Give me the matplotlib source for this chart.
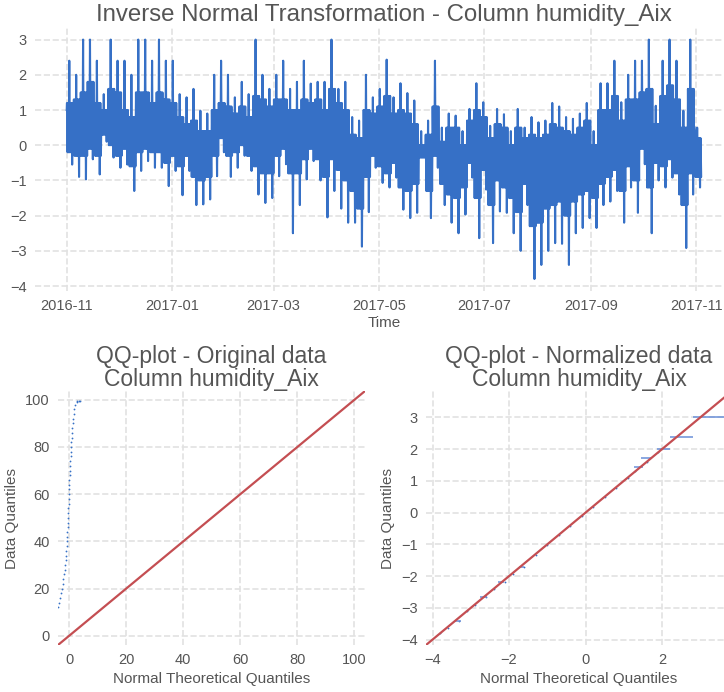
import matplotlib
matplotlib.use("Agg")
import matplotlib.pyplot as plt
import matplotlib.dates as mdates
import numpy as np
import pandas as pd

# time series, in 4-day buckets:
# outer spikes (highs/lows) and the dense body of each bucket (body_hi/body_lo)
ts_start = "2016-11-01"
ts_first = 1.0
ts_last = 0.5
highs = [2.4, 2.0, 3.0, 3.0, 2.4, 1.45, 3.0, 2.4, 2.4, 2.0,
         3.0, 3.0, 2.4, 3.0, 2.4, 2.4, 1.45, 1.36, 1.6, 0.98,
         0.9, 2.0, 2.4, 2.0, 1.36, 1.8, 1.45, 3.0, 2.0, 1.6,
         2.0, 2.4, 1.6, 1.8, 2.4, 1.75, 1.8, 1.8, 3.0, 1.6,
         1.8, 0.8, 0.7, 2.0, 1.36, 1.6, 2.43, 1.36, 1.76, 1.48,
         1.27, 0.4, 0.7, 2.4, 0.5, 0.9, 0.84, 0.4, 1.03, 1.76,
         1.22, 0.55, 1.03, 0.88, 0.4, 1.03, 0.5, 0.8, 0.65, 0.7,
         1.2, 1.1, 0.8, 0.75, 0.9, 1.2, 0.4, 1.76, 1.76, 2.4,
         1.22, 2.0, 2.4, 2.4, 3.0, 1.12, 2.4, 3.0, 2.4, 0.98,
         3.0, 0.5]
lows = [-0.55, -0.9, -0.97, -0.4, -0.83, 0.1, -0.35, -0.64, -0.55, -1.3,
        -0.73, -0.45, -0.64, -0.64, -1.16, -0.73, -1.42, -0.73, -1.7, -1.68,
        -1.54, -0.88, -0.2, -0.9, -0.64, -0.3, -0.73, -1.4, -1.64, -1.5,
        -0.88, -0.54, -2.5, -1.7, -0.97, -0.45, -1.0, -2.05, -1.3, -1.8,
        -2.2, -2.2, -2.88, -1.9, -0.64, -1.07, -1.2, -0.92, -1.83, -2.07,
        -1.92, -0.35, -2.07, -0.64, -1.7, -2.2, -2.5, -1.97, -0.92, -2.64,
        -1.26, -2.78, -1.88, -1.92, -2.5, -3.0, -1.7, -3.8, -3.4, -3.0,
        -2.78, -2.8, -3.4, -2.5, -2.35, -2.07, -2.35, -1.7, -1.6, -1.3,
        -2.2, -1.2, -1.92, -0.54, -2.5, -1.0, -1.2, -0.92, -1.4, -2.92,
        -1.4, -1.2]
body_hi = [1.2, 1.3, 1.5, 1.8, 1.2, 1.0, 1.6, 1.5, 1.0, 0.8,
           1.5, 1.5, 1.2, 1.5, 1.3, 1.2, 0.8, 0.6, 0.7, 0.4,
           0.4, 1.0, 1.2, 1.1, 0.9, 1.1, 0.8, 1.4, 1.3, 1.1,
           1.3, 1.3, 1.0, 1.0, 1.3, 1.2, 1.3, 1.0, 1.6, 1.2,
           1.0, 0.3, 0.2, 1.0, 0.9, 1.1, 1.4, 0.9, 1.0, 0.9,
           0.6, 0.0, 0.3, 1.1, 0.1, 0.5, 0.5, 0.0, 0.7, 1.0,
           0.8, 0.2, 0.6, 0.5, 0.0, 0.5, 0.2, 0.3, 0.2, 0.3,
           0.6, 0.5, 0.4, 0.3, 0.5, 0.7, 0.0, 1.0, 1.0, 1.4,
           0.7, 1.3, 1.3, 1.5, 1.6, 0.6, 1.4, 1.7, 1.3, 0.5,
           1.6, 0.2]
body_lo = [-0.2, -0.3, -0.3, -0.1, -0.3, 0.3, 0.0, -0.3, -0.1, -0.6,
           -0.2, -0.1, -0.2, -0.2, -0.5, -0.3, -0.6, -0.3, -0.9, -1.0,
           -0.9, -0.3, 0.2, -0.3, -0.2, 0.0, -0.3, -0.6, -0.8, -0.8,
           -0.3, -0.1, -0.8, -0.8, -0.4, -0.1, -0.4, -0.9, -0.4, -0.7,
           -1.0, -1.3, -1.8, -0.9, -0.3, -0.6, -0.8, -0.5, -1.2, -1.3,
           -1.1, -0.35, -1.3, -0.3, -1.1, -1.4, -1.5, -1.2, -0.5, -1.5,
           -0.7, -1.7, -1.0, -1.2, -1.5, -1.9, -1.1, -2.3, -2.2, -1.8,
           -1.7, -1.6, -2.0, -1.6, -1.4, -1.3, -1.5, -1.1, -0.9, -0.7,
           -1.3, -0.6, -1.0, -0.1, -1.2, -0.5, -0.6, -0.4, -0.8, -1.7,
           -0.8, -0.9]

# QQ-plot of the original humidity values
orig_theo = [-3.8, -3.5, -3.2, -2.8, -2.45, -2.2, -2.0, -1.8, -1.6, -1.4,
             -1.2, -1.05, -0.97, -0.9, -0.82, -0.7, -0.62, -0.55, -0.47, -0.4,
             -0.33, -0.27, -0.2, -0.14, -0.08, -0.02, 0.05, 0.1, 0.18, 0.26,
             0.35, 0.43, 0.5, 0.6, 0.68, 0.77, 0.86, 0.98, 1.1, 1.25,
             1.4, 1.6, 1.8, 2.2, 2.6, 2.9, 3.3, 3.8]
orig_data = [12, 14, 16, 18, 20, 22, 24, 26, 28, 30,
             32, 34, 36, 38, 40, 42, 44, 46, 48, 50,
             52, 54, 56, 58, 60, 62, 64, 66, 68, 70,
             72, 74, 76, 78, 80, 82, 84, 86, 88, 90,
             92, 94, 96, 98, 99.2, 99.5, 99.5, 99.5]
orig_lim = (-3.9, 103.7)

# QQ-plot of the normalized values
norm_theo = [-3.8, -3.6, -3.3, -3.1, -2.9, -2.6, -2.4, -2.1, -1.9, -1.6,
             -1.3, -1.0, -0.7, -0.4, -0.1, 0.2, 0.5, 0.8, 1.1, 1.3, 1.6, 1.9]
norm_data = [-3.8, -3.62, -3.4, -3.1, -2.92, -2.65, -2.4, -2.2, -1.92, -1.7,
             -1.32, -1.02, -0.72, -0.42, -0.12, 0.18, 0.48, 0.78, 1.08, 1.3, 1.58, 1.9]
tie_level = [3.0, 2.37, 2.0, 1.73, 1.45, -1.7, -2.2, -2.65, -3.4]
tie_from = [2.8, 2.2, 1.88, 1.45, 1.27, -1.75, -2.3, -2.77, -3.42]
tie_to = [3.85, 2.8, 2.2, 1.72, 1.5, -1.62, -2.12, -2.58, -3.25]
norm_lim = (-4.17, 3.83)

blue = "#3670c6"
red = "#c44e52"
text_col = "#555555"
grid_col = "#e2e2e2"

plt.rcParams["font.family"] = ["Liberation Sans", "DejaVu Sans"]
plt.rcParams["text.color"] = text_col
plt.rcParams["axes.labelcolor"] = text_col
plt.rcParams["xtick.color"] = text_col
plt.rcParams["ytick.color"] = text_col


def style(ax):
    for s in ax.spines.values():
        s.set_visible(False)
    ax.grid(True, linestyle="--", color=grid_col, linewidth=1.2)
    ax.set_axisbelow(True)
    ax.tick_params(length=0, labelsize=10.5, pad=6)


fig = plt.figure(figsize=(7.24, 6.92), dpi=100)

# top: transformed series
ax = fig.add_axes([0.0483, 0.5795, 0.964, 0.3806])
style(ax)
start = pd.Timestamp(ts_start)
buckets = pd.date_range(start, periods=len(highs), freq="4D")
step = pd.Timedelta(hours=8)
times = [start]
values = [ts_first]
for i, t0 in enumerate(buckets):
    bh, bl = body_hi[i], body_lo[i]
    # the dense hourly wiggle of the bucket, with its two outer spikes
    seq = [bh, bl, bh, bl, highs[i], bl, bh, bl, bh, lows[i], bh, bl]
    times += [t0 + step * (j + 0.5) for j in range(len(seq))]
    values += seq
times.append(start + pd.Timedelta(days=364))
values.append(ts_last)
ax.plot(times, values, color=blue, linewidth=1.5)
ax.xaxis.set_major_locator(mdates.MonthLocator(bymonth=[1, 3, 5, 7, 9, 11]))
ax.xaxis.set_major_formatter(mdates.DateFormatter("%Y-%m"))
ax.set_yticks(np.arange(-4, 4))
ax.set_xlabel("Time", fontsize=11, labelpad=2)
ax.set_title("Inverse Normal Transformation - Column humidity_Aix",
             fontsize=17.3, pad=5, color=text_col)

# bottom left: original data
ax1 = fig.add_axes([0.0801, 0.0679, 0.424, 0.367])
style(ax1)
ax1.plot(orig_theo, orig_data, "o", markersize=1.3, markeredgewidth=0, color=blue)
ax1.plot(orig_lim, orig_lim, color=red, linewidth=1.6)
ax1.set_xlim(orig_lim)
ax1.set_ylim(orig_lim)
ax1.set_xticks([0, 20, 40, 60, 80, 100])
ax1.set_yticks([0, 20, 40, 60, 80, 100])
ax1.set_xlabel("Normal Theoretical Quantiles", fontsize=11, labelpad=3)
ax1.set_ylabel("Data Quantiles", fontsize=11)
ax1.set_title("QQ-plot - Original data\nColumn humidity_Aix", fontsize=16.5,
              pad=3, color=text_col, linespacing=1.0)

# bottom right: normalized data
ax2 = fig.add_axes([0.5884, 0.0679, 0.4227, 0.367])
style(ax2)
ax2.plot(norm_theo, norm_data, "o", markersize=1.3, markeredgewidth=0, color=blue)
ax2.hlines(tie_level, tie_from, tie_to, color="#6a8fd8", linewidth=1.1)
ax2.plot(norm_lim, norm_lim, color=red, linewidth=1.6)
ax2.set_xlim(norm_lim)
ax2.set_ylim(norm_lim)
ax2.set_xticks([-4, -2, 0, 2])
ax2.set_yticks(np.arange(-4, 4))
ax2.set_xlabel("Normal Theoretical Quantiles", fontsize=11, labelpad=3)
ax2.set_ylabel("Data Quantiles", fontsize=11)
ax2.set_title("QQ-plot - Normalized data\nColumn humidity_Aix", fontsize=16.5,
              pad=3, color=text_col, linespacing=1.0)

fig.savefig("out.png", dpi=100)
